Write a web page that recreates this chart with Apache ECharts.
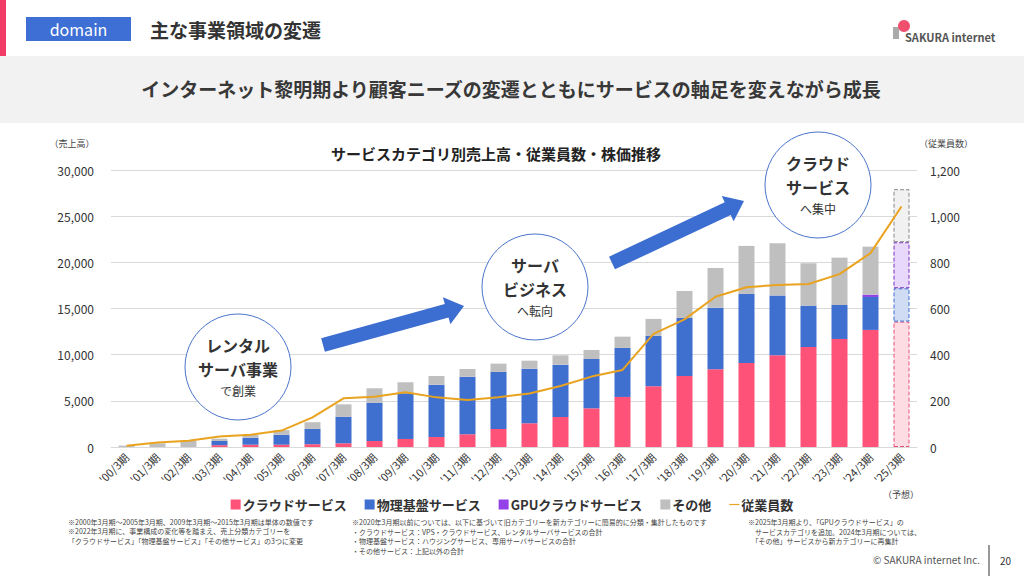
<!DOCTYPE html>
<html><head><meta charset="utf-8">
<script src="https://cdn.jsdelivr.net/npm/echarts@6/dist/echarts.min.js"></script>
<style>html,body{margin:0;padding:0;background:#fff;}#c{width:1024px;height:577px;}</style>
</head><body><div id="c"></div>
<script>
const categories = ["'00/3期","'01/3期","'02/3期","'03/3期","'04/3期","'05/3期","'06/3期","'07/3期","'08/3期","'09/3期","'10/3期","'11/3期","'12/3期","'13/3期","'14/3期","'15/3期","'16/3期","'17/3期","'18/3期","'19/3期","'20/3期","'21/3期","'22/3期","'23/3期","'24/3期","'25/3期"];
const cloud    = [0,0,0,200,250,250,300,400,650,870,1080,1380,1950,2570,3250,4190,5420,6580,7690,8420,9100,9930,10830,11700,12680,13580];
const physical = [0,0,0,450,750,1070,1660,2885,4150,4950,5670,6240,6190,5910,5670,5340,5310,5450,6290,6670,7480,6470,4480,3680,3570,3610];
const gpu      = [0,0,0,0,0,0,0,0,0,0,0,0,0,0,0,0,0,0,0,0,0,0,0,0,250,4990];
const other    = [150,400,650,250,300,500,720,1335,1560,1190,940,830,890,870,1010,980,1220,1840,2920,4300,5200,5670,4590,5130,5200,5740];
const employees = [5,20,27,45,53,71,128,211,218,237,215,204,216,232,264,305,334,490,553,651,692,702,706,749,840,1042];
const salesTicks = [0,5000,10000,15000,20000,25000,30000];
const staffTicks = [0,200,400,600,800,1000,1200];
const forecastIndex = 25;

const FONT = "'Noto Sans CJK JP','Noto Sans',sans-serif";
const C = {cloud:'#ff5278', phys:'#3f6fcf', gpu:'#9440e8', other:'#bfbfbf', line:'#e9a31f'};
const F = {cloud:['#fddce4','#e8507a'], phys:['#cfdcf3','#3f6fcf'], gpu:['#e8d8fb','#7a2fc0'], other:['#f1f1f1','#888888']};

function mk(arr, key){
  return arr.map((v,i)=> i===forecastIndex
    ? {value:v, itemStyle:{color:F[key][0], borderColor:F[key][1], borderType:'dashed', borderWidth:1}}
    : v);
}
function arrowPts(x1,y1,x2,y2,sw,hw,hl){
  const dx=x2-x1, dy=y2-y1, L=Math.hypot(dx,dy), ux=dx/L, uy=dy/L, nx=-uy, ny=ux;
  const bx=x2-ux*hl, by=y2-uy*hl;
  return [[x1+nx*sw,y1+ny*sw],[bx+nx*sw,by+ny*sw],[bx+nx*hw,by+ny*hw],[x2,y2],[bx-nx*hw,by-ny*hw],[bx-nx*sw,by-ny*sw],[x1-nx*sw,y1-ny*sw]];
}
function txt(t,x,y,size,opt){
  opt=opt||{};
  return {type:'text', z:100, style:{text:t, x:x, y:y, fill:opt.fill||'#333', fontSize:size, fontFamily:FONT,
    fontWeight:opt.weight||'normal', textAlign:opt.align||'left', textVerticalAlign:'middle', verticalAlign:'middle'}};
}
function bubble(cx,cy,l1,l2,l3){
  return [
    {type:'circle', z:90, shape:{cx:cx,cy:cy,r:53}, style:{fill:'#fff', stroke:'#4a74c9', lineWidth:1}},
    txt(l1,cx,cy-22,16,{weight:'bold',align:'center',fill:'#333'}),
    txt(l2,cx,cy+2,16,{weight:'bold',align:'center',fill:'#333'}),
    txt(l3,cx,cy+23,12,{align:'center',fill:'#333'})
  ];
}

const graphics = [
  {type:'rect', z:1, shape:{x:0,y:0,width:6,height:56}, style:{fill:'#f23b66'}},
  {type:'rect', z:1, shape:{x:26,y:17,width:105,height:24}, style:{fill:'#3e6fd5'}},
  txt('domain',78.5,29,16,{fill:'#fff',align:'center'}),
  txt('主な事業領域の変遷',150,29,19,{weight:'bold',fill:'#333'}),
  {type:'circle', z:2, shape:{cx:904,cy:26,r:6}, style:{fill:'#f0506e'}},
  {type:'rect', z:1, shape:{x:893,y:27,width:6,height:12}, style:{fill:'#aaa'}},
  txt('SAKURA internet',905,37,11,{weight:'bold',fill:'#555'}),
  {type:'rect', z:0, shape:{x:0,y:56,width:1024,height:67}, style:{fill:'#f2f2f2'}},
  txt('インターネット黎明期より顧客ニーズの変遷とともにサービスの軸足を変えながら成長',511,88,19,{weight:'bold',align:'center',fill:'#383838'}),
  txt('（売上高）',72,143,9,{align:'center',fill:'#444'}),
  txt('（従業員数）',946,143,9,{align:'center',fill:'#444'}),
  txt('サービスカテゴリ別売上高・従業員数・株価推移',496,153,15,{weight:'bold',align:'center',fill:'#222'}),
  txt('（予想）',901,494,9,{align:'center',fill:'#444'}),
  {type:'polygon', z:95, shape:{points:arrowPts(323,345,464,306,7,14,18)}, style:{fill:'#3c6dd0'}},
  {type:'polygon', z:95, shape:{points:arrowPts(612,263,744,201,7,14,18)}, style:{fill:'#3c6dd0'}},
  ...bubble(238,367,'レンタル','サーバ事業','で創業'),
  ...bubble(535,287,'サーバ','ビジネス','へ転向'),
  ...bubble(818,185,'クラウド','サービス','へ集中'),
  txt('※2000年3月期～2005年3月期、2009年3月期～2015年3月期は単体の数値です',68,522,7,{fill:'#444'}),
  txt('※2022年3月期に、事業構成の変化等を踏まえ、売上分類カテゴリーを',68,531,7,{fill:'#444'}),
  txt('「クラウドサービス」「物理基盤サービス」「その他サービス」の3つに変更',68,541,7,{fill:'#444'}),
  txt('※2020年3月期以前については、以下に基づいて旧カテゴリーを新カテゴリーに簡易的に分類・集計したものです',352,522,7,{fill:'#444'}),
  txt('・クラウドサービス：VPS・クラウドサービス、レンタルサーバサービスの合計',352,532,7,{fill:'#444'}),
  txt('・物理基盤サービス：ハウジングサービス、専用サーバサービスの合計',352,541,7,{fill:'#444'}),
  txt('・その他サービス：上記以外の合計',352,551,7,{fill:'#444'}),
  txt('※2025年3月期より、「GPUクラウドサービス」の',748,522,7,{fill:'#444'}),
  txt('　サービスカテゴリを追加。2024年3月期については、',748,532,7,{fill:'#444'}),
  txt('　「その他」サービスから新カテゴリーに再集計',748,541,7,{fill:'#444'}),
  txt('© SAKURA internet Inc.',873,559,10,{fill:'#555'}),
  {type:'line', z:1, shape:{x1:989,y1:545,x2:989,y2:576}, style:{stroke:'#333',lineWidth:1}},
  txt('20',1000,560,10,{fill:'#333'})
];

const chart = echarts.init(document.getElementById('c'), null, {renderer:'svg', width:1024, height:577});
chart.setOption({
  animation:false,
  textStyle:{fontFamily:FONT},
  grid:{left:111, right:107, top:170, bottom:130, containLabel:false},
  legend:{
    top:493, left:'center', itemGap:18, itemWidth:10, itemHeight:10,
    textStyle:{fontSize:13, fontWeight:'bold', color:'#333', fontFamily:FONT, padding:[0,0,0,-3]},
    data:[
      {name:'クラウドサービス', icon:'rect'},
      {name:'物理基盤サービス', icon:'rect'},
      {name:'GPUクラウドサービス', icon:'rect'},
      {name:'その他', icon:'rect'},
      {name:'従業員数', icon:'path://M0,4.4 L10,4.4 L10,5.6 L0,5.6 Z'}
    ]
  },
  xAxis:{
    type:'category', data:categories,
    axisLine:{lineStyle:{color:'#d9d9d9'}}, axisTick:{show:false},
    axisLabel:{rotate:45, fontSize:11, color:'#333', margin:8, interval:0}
  },
  yAxis:[
    {type:'value', min:0, max:30000, interval:5000,
     axisLabel:{fontSize:12, color:'#333', margin:17, formatter:v=>salesTicks.indexOf(v)>=0?v.toLocaleString('en-US'):''},
     splitLine:{lineStyle:{color:'#d9d9d9'}}, axisLine:{show:false}, axisTick:{show:false}},
    {type:'value', min:0, max:1200, interval:200, position:'right',
     axisLabel:{fontSize:12, color:'#333', margin:13, formatter:v=>staffTicks.indexOf(v)>=0?v.toLocaleString('en-US'):''},
     splitLine:{show:false}, axisLine:{show:false}, axisTick:{show:false}}
  ],
  series:[
    {name:'クラウドサービス', type:'bar', stack:'s', barWidth:16, itemStyle:{color:C.cloud}, data:mk(cloud,'cloud')},
    {name:'物理基盤サービス', type:'bar', stack:'s', barWidth:16, itemStyle:{color:C.phys}, data:mk(physical,'phys')},
    {name:'GPUクラウドサービス', type:'bar', stack:'s', barWidth:16, itemStyle:{color:C.gpu}, data:mk(gpu,'gpu')},
    {name:'その他', type:'bar', stack:'s', barWidth:16, itemStyle:{color:C.other}, data:mk(other,'other')},
    {name:'従業員数', type:'line', yAxisIndex:1, symbol:'none', showSymbol:false, z:5,
     lineStyle:{color:C.line, width:2}, itemStyle:{color:C.line}, data:employees}
  ],
  graphic:graphics
});
</script></body></html>
